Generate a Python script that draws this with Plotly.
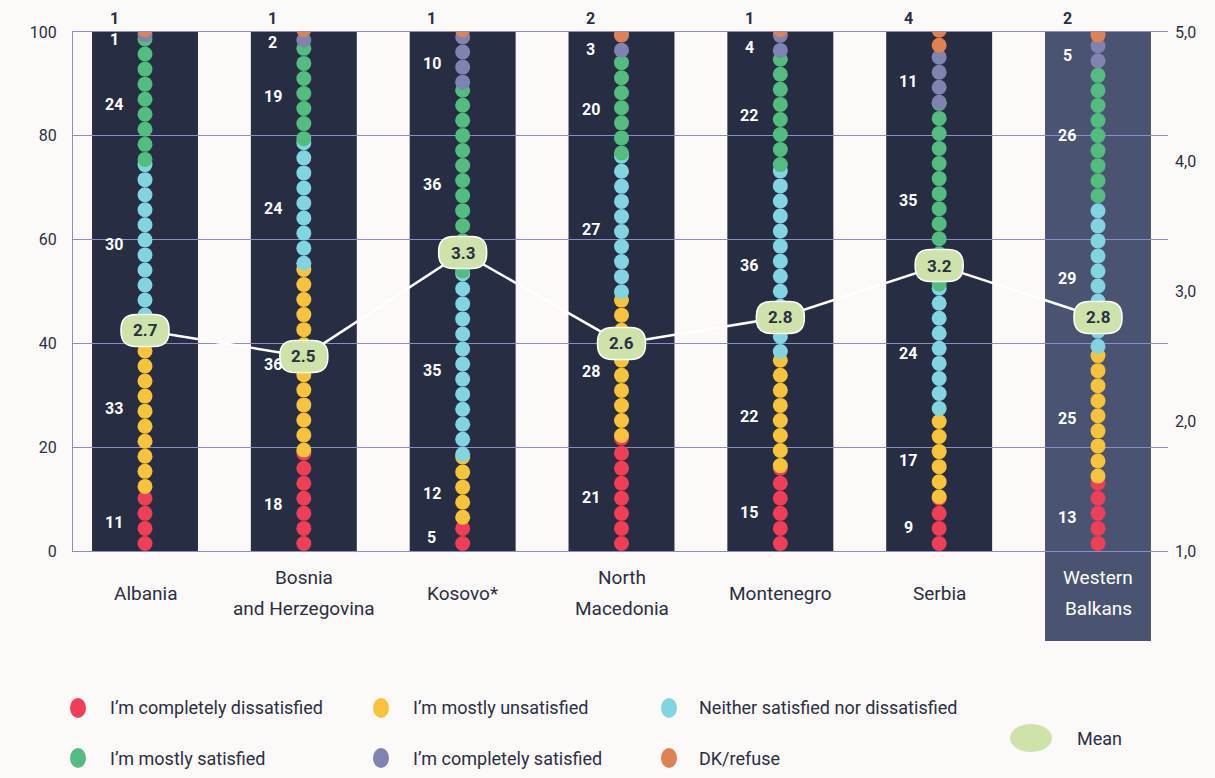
import plotly.graph_objects as go

# --- data -------------------------------------------------------------
countries = ["Albania", "Bosnia\nand Herzegovina", "Kosovo*", "North\nMacedonia",
             "Montenegro", "Serbia", "Western\nBalkans"]
completely_dissatisfied = [11, 18, 5, 21, 15, 9, 13]
mostly_unsatisfied = [33, 36, 12, 28, 22, 17, 25]
neither_satisfied = [30, 24, 35, 27, 36, 24, 29]
mostly_satisfied = [24, 19, 36, 20, 22, 35, 26]
completely_satisfied = [1, 2, 10, 3, 4, 11, 5]
dk_refuse = [1, 1, 1, 2, 1, 4, 2]
mean_scores = [2.7, 2.5, 3.3, 2.6, 2.8, 3.2, 2.8]
share_ticks = [0, 20, 40, 60, 80, 100]
mean_ticks = [1, 2, 3, 4, 5]

series_names = ["I\u2019m completely dissatisfied", "I\u2019m mostly unsatisfied",
                "Neither satisfied nor dissatisfied", "I\u2019m mostly satisfied",
                "I\u2019m completely satisfied", "DK/refuse"]
series_values = [completely_dissatisfied, mostly_unsatisfied, neither_satisfied,
                 mostly_satisfied, completely_satisfied, dk_refuse]

# --- styling ----------------------------------------------------------
FONT = "Roboto, Liberation Sans, sans-serif"
INK = "#2a2f45"
BG = "#fdf9f8"
BAND = "#272d42"
BAND_TOTAL = "#4a5470"
GRID = "#8a8dc8"
MEAN_FILL = "#cde3a9"
series_colors = ["#ef3e56", "#f6c33b", "#82d4e1", "#52bd7e", "#8083b0", "#e08152"]

W, H = 1215, 778
ML, MR, MT, MB = 73, 47, 32, 227
PW, PH = W - ML - MR, H - MT - MB
X_RANGE = [-0.4533, 6.4407]
DOT_PITCH = 2.9      # vertical spacing of dots, in percentage points
DOT_SIZE = 15        # px
BAND_HALF = 0.3335   # half width of column bands, in category units
LABEL_SHIFT = -31    # px offset of the value labels from the dot column


def px_x(p):
    return (p - ML) / PW


def px_y(p):
    return (H - MB - p) / PH


n = len(countries)
totals = [sum(s[i] for s in series_values) for i in range(n)]

fig = go.Figure()
annotations = []
shapes = []

# column bands (drawn under the grid)
for i in range(n):
    if i == n - 1:
        shapes.append(dict(type="rect", xref="x", yref="paper", x0=i - BAND_HALF, x1=i + BAND_HALF,
                           y0=px_y(641), y1=1, fillcolor=BAND_TOTAL, line=dict(width=0), layer="below"))
    else:
        shapes.append(dict(type="rect", xref="x", yref="y", x0=i - BAND_HALF, x1=i + BAND_HALF,
                           y0=0, y1=100, fillcolor=BAND, line=dict(width=0), layer="below"))

# stacked dot columns
base = [0.0] * n
for k, (name, vals, col) in enumerate(zip(series_names, series_values, series_colors)):
    xs, ys = [], []
    for i in range(n):
        seg = vals[i] * 100.0 / totals[i]
        lo, hi = base[i], base[i] + seg
        j = 0
        while lo + j * DOT_PITCH < hi - 1e-9:
            xs.append(i)
            ys.append(lo + DOT_PITCH / 2 + j * DOT_PITCH)
            j += 1
        if k == len(series_values) - 1:
            annotations.append(dict(x=i, y=100, xref="x", yref="y", xshift=LABEL_SHIFT, yshift=14,
                                    text=f"<b>{vals[i]}</b>", showarrow=False,
                                    font=dict(family=FONT, size=16, color=INK)))
        else:
            annotations.append(dict(x=i, y=(lo + hi) / 2, xref="x", yref="y", xshift=LABEL_SHIFT,
                                    text=f"<b>{vals[i]}</b>", showarrow=False,
                                    font=dict(family=FONT, size=16, color="white")))
        base[i] = hi
    fig.add_trace(go.Scatter(x=xs, y=ys, mode="markers", name=name, showlegend=False,
                             marker=dict(size=DOT_SIZE, color=col, line=dict(width=0)),
                             hoverinfo="skip", cliponaxis=True))

# mean line and bubbles
fig.add_trace(go.Scatter(x=list(range(n)), y=mean_scores, yaxis="y2", mode="lines",
                         line=dict(color="white", width=2.5), showlegend=False, hoverinfo="skip"))


def pill_path(w, h, r):
    hw, hh = w / 2, h / 2
    return (f"M {-hw + r},{-hh} L {hw - r},{-hh} Q {hw},{-hh} {hw},{-hh + r} "
            f"L {hw},{hh - r} Q {hw},{hh} {hw - r},{hh} L {-hw + r},{hh} "
            f"Q {-hw},{hh} {-hw},{hh - r} L {-hw},{-hh + r} Q {-hw},{-hh} {-hw + r},{-hh} Z")


for i, m in enumerate(mean_scores):
    shapes.append(dict(type="path", xref="x", yref="y2", xsizemode="pixel", ysizemode="pixel",
                       xanchor=i, yanchor=m, path=pill_path(48, 32, 15),
                       fillcolor=MEAN_FILL, line=dict(color="white", width=1.5), layer="above"))
    annotations.append(dict(x=i, y=m, xref="x", yref="y2", text=f"<b>{m:.1f}</b>", showarrow=False,
                            font=dict(family=FONT, size=17, color=INK)))

# category labels
for i, lab in enumerate(countries):
    lines = lab.split("\n")
    col = "white" if i == n - 1 else INK
    for j, line in enumerate(lines):
        py = 593 + (j - (len(lines) - 1) / 2) * 31
        annotations.append(dict(x=i, y=px_y(py), xref="x", yref="paper", text=line, showarrow=False,
                                yanchor="middle", font=dict(family=FONT, size=19, color=col)))

# legend
legend_items = [(78, 708, 108, 0), (381, 708, 411, 1), (669, 708, 697, 2),
                (78, 758, 108, 3), (381, 758, 411, 4), (669, 758, 697, 5)]
for cx, cy, tx, k in legend_items:
    shapes.append(dict(type="circle", xref="paper", yref="paper", xsizemode="pixel", ysizemode="pixel",
                       xanchor=px_x(cx), yanchor=px_y(cy), x0=-8, x1=8, y0=-10, y1=10,
                       fillcolor=series_colors[k], line=dict(width=0)))
    annotations.append(dict(x=px_x(tx), y=px_y(cy), xref="paper", yref="paper", xanchor="left",
                            yanchor="middle", text=series_names[k], showarrow=False,
                            font=dict(family=FONT, size=18, color=INK)))
shapes.append(dict(type="circle", xref="paper", yref="paper", xsizemode="pixel", ysizemode="pixel",
                   xanchor=px_x(1031), yanchor=px_y(738), x0=-21, x1=21, y0=-14, y1=14,
                   fillcolor=MEAN_FILL, line=dict(width=0)))
annotations.append(dict(x=px_x(1075), y=px_y(738), xref="paper", yref="paper", xanchor="left",
                        yanchor="middle", text="Mean", showarrow=False,
                        font=dict(family=FONT, size=18, color=INK)))

fig.update_layout(
    width=W, height=H, margin=dict(l=ML, r=MR, t=MT, b=MB),
    paper_bgcolor=BG, plot_bgcolor=BG, showlegend=False,
    font=dict(family=FONT, color=INK),
    xaxis=dict(range=X_RANGE, showticklabels=False, showgrid=False, zeroline=False,
               showline=True, mirror=True, linecolor=GRID, linewidth=1, ticks="", fixedrange=True),
    yaxis=dict(range=[0, 100], tickvals=share_ticks, showgrid=True, gridcolor=GRID, gridwidth=1,
               zeroline=False, showline=True, linecolor=GRID, linewidth=1, ticks="",
               ticklabelstandoff=12, tickfont=dict(size=16, color=INK), fixedrange=True),
    yaxis2=dict(range=[1, 5], overlaying="y", side="right", tickvals=mean_ticks,
                ticktext=[f"{v:.1f}".replace(".", ",") for v in mean_ticks], showgrid=False,
                zeroline=False, showline=False, ticks="", ticklabelstandoff=6,
                tickfont=dict(size=16, color=INK), fixedrange=True),
    shapes=shapes, annotations=annotations,
)

fig.write_html("out.html")
